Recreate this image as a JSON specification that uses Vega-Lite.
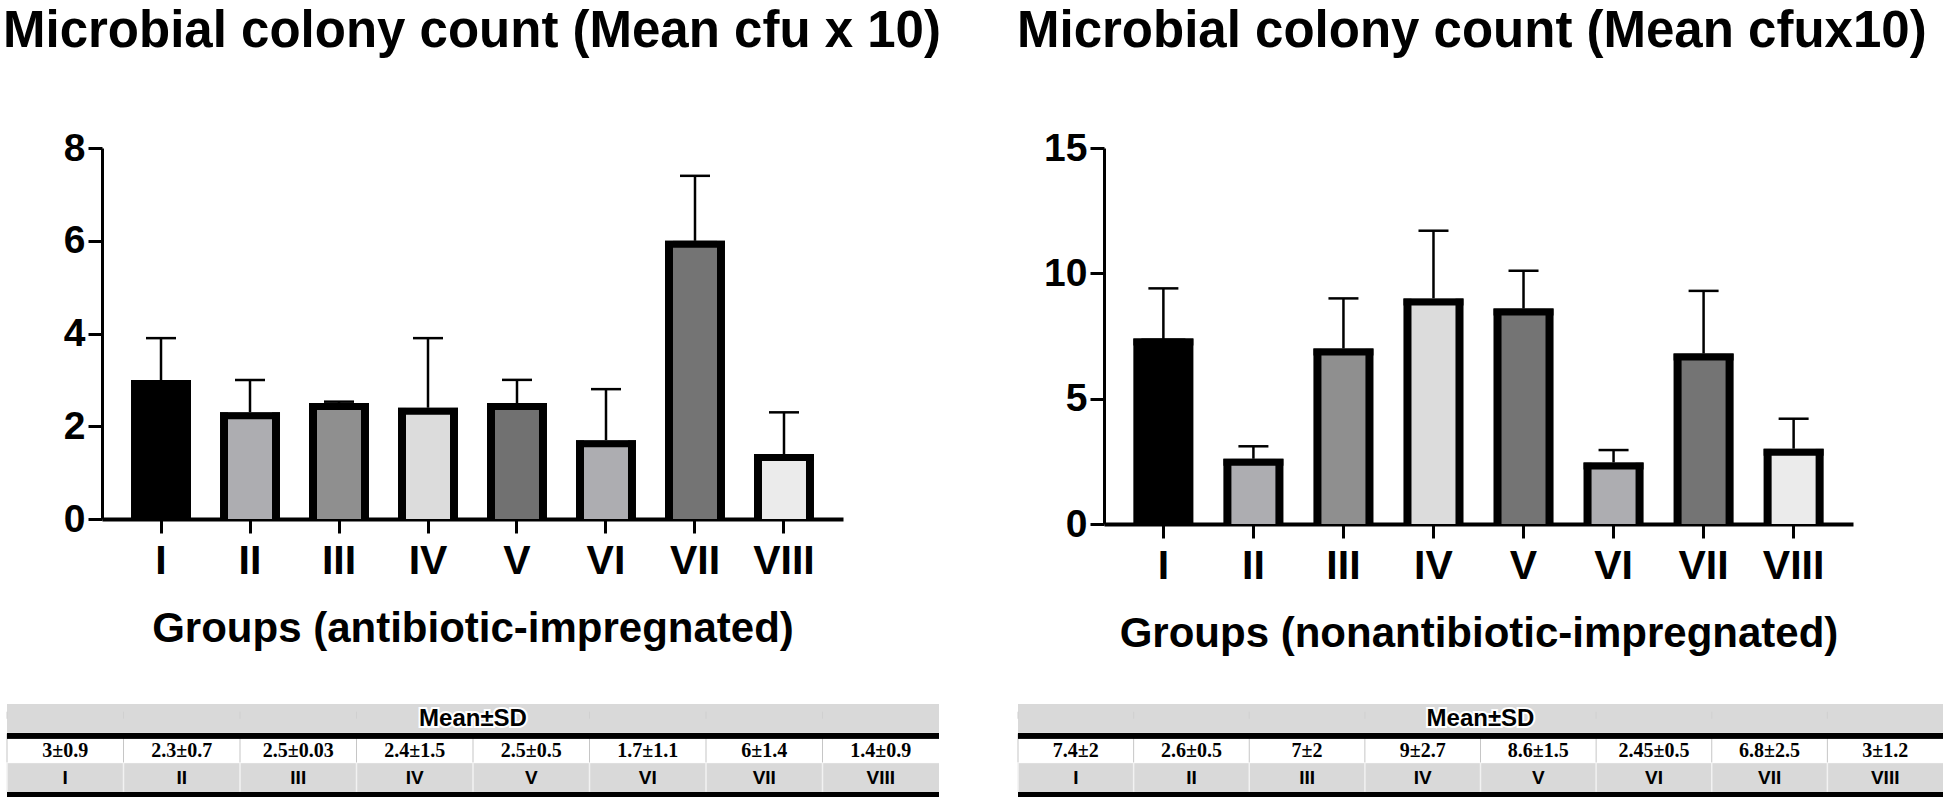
{
  "$schema": "https://vega.github.io/schema/vega-lite/v6.json",
  "background": "white",
  "padding": {"left": 3, "top": 6, "right": 0, "bottom": 0},
  "columns": 2,
  "bounds": "flush",
  "align": "all",
  "spacing": {"row": 180, "column": 79},
  "resolve": {"scale": {"x": "independent", "y": "independent", "color": "independent"}},
  "config": {"view": {"stroke": null}, "font": "Liberation Sans", "tick": {"opacity": 1}},
  "datasets": {
    "anti": [
      {"g": "I", "mean": 3, "sd": 0.9, "label": "3±0.9"},
      {"g": "II", "mean": 2.3, "sd": 0.7, "label": "2.3±0.7"},
      {"g": "III", "mean": 2.5, "sd": 0.03, "label": "2.5±0.03"},
      {"g": "IV", "mean": 2.4, "sd": 1.5, "label": "2.4±1.5"},
      {"g": "V", "mean": 2.5, "sd": 0.5, "label": "2.5±0.5"},
      {"g": "VI", "mean": 1.7, "sd": 1.1, "label": "1.7±1.1"},
      {"g": "VII", "mean": 6, "sd": 1.4, "label": "6±1.4"},
      {"g": "VIII", "mean": 1.4, "sd": 0.9, "label": "1.4±0.9"}
    ],
    "non": [
      {"g": "I", "mean": 7.4, "sd": 2, "label": "7.4±2"},
      {"g": "II", "mean": 2.6, "sd": 0.5, "label": "2.6±0.5"},
      {"g": "III", "mean": 7, "sd": 2, "label": "7±2"},
      {"g": "IV", "mean": 9, "sd": 2.7, "label": "9±2.7"},
      {"g": "V", "mean": 8.6, "sd": 1.5, "label": "8.6±1.5"},
      {"g": "VI", "mean": 2.45, "sd": 0.5, "label": "2.45±0.5"},
      {"g": "VII", "mean": 6.8, "sd": 2.5, "label": "6.8±2.5"},
      {"g": "VIII", "mean": 3, "sd": 1.2, "label": "3±1.2"}
    ],
    "hdr": [{"t": "Mean±SD"}]
  },
  "concat": [
    {
      "width": 836, "height": 371,
      "title": {"text": "Microbial colony count (Mean cfu x 10)", "anchor": "start", "frame": "group", "dx": -4, "offset": 71, "fontSize": 51, "font": "Liberation Sans", "fontWeight": "bold", "color": "black"},
      "data": {"name": "anti"},
      "encoding": {
        "x": {"field": "g", "type": "nominal", "sort": null,
          "scale": {"domain": ["I","II","III","IV","V","VI","VII","VIII"], "range": [95, 836], "paddingInner": 0.326, "paddingOuter": 0.326},
          "axis": {"title": "Groups (antibiotic-impregnated)", "labelAngle": 0, "domainWidth": 4, "domainColor": "black", "tickColor": "black", "tickWidth": 3, "tickSize": 14, "labelFont": "Liberation Sans", "labelFontSize": 41, "labelFontWeight": "bold", "labelColor": "black", "labelPadding": 8, "titleFont": "Liberation Sans", "titleFontSize": 42, "titleFontWeight": "bold", "titleColor": "black", "titlePadding": 27}},
        "y": {"field": "mean", "type": "quantitative",
          "scale": {"domain": [0, 8], "nice": false},
          "axis": {"title": null, "values": [0, 2, 4, 6, 8], "offset": -95, "grid": false, "domainWidth": 3, "domainColor": "black", "tickColor": "black", "tickWidth": 3, "tickSize": 14, "labelFont": "Liberation Sans", "labelFontSize": 39, "labelFontWeight": "bold", "labelColor": "black", "labelPadding": 3}}
      },
      "layer": [
        {"mark": {"type": "errorbar", "color": "black", "thickness": 2.5, "size": 30, "ticks": true}, "encoding": {"yError": {"field": "sd"}}},
        {"mark": {"type": "bar", "color": "black"}},
        {"mark": {"type": "bar", "width": 44},
          "encoding": {"color": {"field": "g", "type": "nominal", "scale": {"domain": ["I","II","III","IV","V","VI","VII","VIII"], "range": ["#000000","#adadb1","#8f8f8f","#dcdcdc","#717171","#adadb1","#747474","#ebebeb"]}, "legend": null}}},
        {"mark": {"type": "tick", "orient": "horizontal", "color": "black", "opacity": 1, "size": 60, "thickness": 7, "yOffset": 3.5}}
      ]
    },
    {
      "width": 835, "height": 376,
      "title": {"text": "Microbial colony count (Mean cfux10)", "anchor": "start", "frame": "group", "dx": -1, "offset": 71, "fontSize": 51, "font": "Liberation Sans", "fontWeight": "bold", "color": "black"},
      "data": {"name": "non"},
      "encoding": {
        "x": {"field": "g", "type": "nominal", "sort": null,
          "scale": {"domain": ["I","II","III","IV","V","VI","VII","VIII"], "range": [86, 835], "paddingInner": 0.333, "paddingOuter": 0.326},
          "axis": {"title": "Groups (nonantibiotic-impregnated)", "labelAngle": 0, "domainWidth": 4, "domainColor": "black", "tickColor": "black", "tickWidth": 3, "tickSize": 14, "labelFont": "Liberation Sans", "labelFontSize": 41, "labelFontWeight": "bold", "labelColor": "black", "labelPadding": 8, "titleFont": "Liberation Sans", "titleFontSize": 42, "titleFontWeight": "bold", "titleColor": "black", "titlePadding": 27}},
        "y": {"field": "mean", "type": "quantitative",
          "scale": {"domain": [0, 15], "nice": false},
          "axis": {"title": null, "values": [0, 5, 10, 15], "offset": -86, "grid": false, "domainWidth": 3, "domainColor": "black", "tickColor": "black", "tickWidth": 3, "tickSize": 14, "labelFont": "Liberation Sans", "labelFontSize": 39, "labelFontWeight": "bold", "labelColor": "black", "labelPadding": 3}}
      },
      "layer": [
        {"mark": {"type": "errorbar", "color": "black", "thickness": 2.5, "size": 30, "ticks": true}, "encoding": {"yError": {"field": "sd"}}},
        {"mark": {"type": "bar", "color": "black"}},
        {"mark": {"type": "bar", "width": 44},
          "encoding": {"color": {"field": "g", "type": "nominal", "scale": {"domain": ["I","II","III","IV","V","VI","VII","VIII"], "range": ["#000000","#adadb1","#8f8f8f","#dcdcdc","#747474","#adadb1","#747474","#ebebeb"]}, "legend": null}}},
        {"mark": {"type": "tick", "orient": "horizontal", "color": "black", "opacity": 1, "size": 60, "thickness": 7, "yOffset": 3.5}}
      ]
    },
    {
      "width": 932, "height": 88,
      "view": {"fill": "#d9d9d9", "stroke": null},
      "data": {"name": "anti"},
      "layer": [
        {"mark": {"type": "rect", "color": "white", "stroke": "white", "strokeWidth": 1},
          "encoding": {
            "x": {"field": "g", "type": "nominal", "sort": null, "scale": {"domain": ["I","II","III","IV","V","VI","VII","VIII"], "paddingInner": 0, "paddingOuter": 0}, "axis": null},
            "y": {"datum": "v", "type": "nominal", "scale": {"domain": ["h","v","l"], "paddingInner": 0, "paddingOuter": 0}, "axis": null}}},
        {"mark": {"type": "tick", "orient": "vertical", "size": 29, "thickness": 1, "color": "#c6c6c6"},
          "encoding": {"x": {"field": "g", "type": "nominal", "sort": null, "bandPosition": 0}, "y": {"datum": "v", "type": "nominal"}}},
        {"mark": {"type": "tick", "orient": "vertical", "size": 29, "thickness": 1.5, "color": "#f2f2f2"},
          "encoding": {"x": {"field": "g", "type": "nominal", "sort": null, "bandPosition": 0}, "y": {"datum": "l", "type": "nominal"}}},
        {"mark": {"type": "tick", "orient": "vertical", "size": 7, "thickness": 1, "color": "#d0d0d0", "yOffset": -3.5},
          "encoding": {"x": {"field": "g", "type": "nominal", "sort": null, "bandPosition": 0}, "y": {"datum": "h", "type": "nominal", "bandPosition": 0}}},
        {"mark": {"type": "rule", "color": "black", "strokeWidth": 5, "yOffset": 2.5},
          "encoding": {"y": {"datum": "v", "type": "nominal", "bandPosition": 0}}},
        {"mark": {"type": "rule", "color": "black", "strokeWidth": 5, "yOffset": 2.5},
          "encoding": {"y": {"datum": "l", "type": "nominal", "bandPosition": 1}}},
        {"data": {"name": "hdr"}, "mark": {"type": "text", "font": "Liberation Sans", "fontWeight": "bold", "fontSize": 24, "color": "white", "stroke": "white", "strokeWidth": 4},
          "encoding": {"x": {"datum": "IV", "type": "nominal", "bandPosition": 1}, "y": {"datum": "h", "type": "nominal"}, "text": {"field": "t"}}},
        {"data": {"name": "hdr"}, "mark": {"type": "text", "font": "Liberation Sans", "fontWeight": "bold", "fontSize": 24, "color": "black"},
          "encoding": {"x": {"datum": "IV", "type": "nominal", "bandPosition": 1}, "y": {"datum": "h", "type": "nominal"}, "text": {"field": "t"}}},
        {"mark": {"type": "text", "font": "Liberation Serif", "fontWeight": "bold", "fontSize": 20, "color": "black", "yOffset": 3},
          "encoding": {"x": {"field": "g", "type": "nominal", "sort": null}, "y": {"datum": "v", "type": "nominal"}, "text": {"field": "label"}}},
        {"mark": {"type": "text", "font": "Liberation Sans", "fontWeight": "bold", "fontSize": 19, "color": "black", "yOffset": 1},
          "encoding": {"x": {"field": "g", "type": "nominal", "sort": null}, "y": {"datum": "l", "type": "nominal"}, "text": {"field": "g"}}}
      ]
    },
    {
      "width": 925, "height": 88,
      "view": {"fill": "#d9d9d9", "stroke": null},
      "data": {"name": "non"},
      "layer": [
        {"mark": {"type": "rect", "color": "white", "stroke": "white", "strokeWidth": 1},
          "encoding": {
            "x": {"field": "g", "type": "nominal", "sort": null, "scale": {"domain": ["I","II","III","IV","V","VI","VII","VIII"], "paddingInner": 0, "paddingOuter": 0}, "axis": null},
            "y": {"datum": "v", "type": "nominal", "scale": {"domain": ["h","v","l"], "paddingInner": 0, "paddingOuter": 0}, "axis": null}}},
        {"mark": {"type": "tick", "orient": "vertical", "size": 29, "thickness": 1, "color": "#c6c6c6"},
          "encoding": {"x": {"field": "g", "type": "nominal", "sort": null, "bandPosition": 0}, "y": {"datum": "v", "type": "nominal"}}},
        {"mark": {"type": "tick", "orient": "vertical", "size": 29, "thickness": 1.5, "color": "#f2f2f2"},
          "encoding": {"x": {"field": "g", "type": "nominal", "sort": null, "bandPosition": 0}, "y": {"datum": "l", "type": "nominal"}}},
        {"mark": {"type": "tick", "orient": "vertical", "size": 7, "thickness": 1, "color": "#d0d0d0", "yOffset": -3.5},
          "encoding": {"x": {"field": "g", "type": "nominal", "sort": null, "bandPosition": 0}, "y": {"datum": "h", "type": "nominal", "bandPosition": 0}}},
        {"mark": {"type": "rule", "color": "black", "strokeWidth": 5, "yOffset": 2.5},
          "encoding": {"y": {"datum": "v", "type": "nominal", "bandPosition": 0}}},
        {"mark": {"type": "rule", "color": "black", "strokeWidth": 5, "yOffset": 2.5},
          "encoding": {"y": {"datum": "l", "type": "nominal", "bandPosition": 1}}},
        {"data": {"name": "hdr"}, "mark": {"type": "text", "font": "Liberation Sans", "fontWeight": "bold", "fontSize": 24, "color": "white", "stroke": "white", "strokeWidth": 4},
          "encoding": {"x": {"datum": "IV", "type": "nominal", "bandPosition": 1}, "y": {"datum": "h", "type": "nominal"}, "text": {"field": "t"}}},
        {"data": {"name": "hdr"}, "mark": {"type": "text", "font": "Liberation Sans", "fontWeight": "bold", "fontSize": 24, "color": "black"},
          "encoding": {"x": {"datum": "IV", "type": "nominal", "bandPosition": 1}, "y": {"datum": "h", "type": "nominal"}, "text": {"field": "t"}}},
        {"mark": {"type": "text", "font": "Liberation Serif", "fontWeight": "bold", "fontSize": 20, "color": "black", "yOffset": 3},
          "encoding": {"x": {"field": "g", "type": "nominal", "sort": null}, "y": {"datum": "v", "type": "nominal"}, "text": {"field": "label"}}},
        {"mark": {"type": "text", "font": "Liberation Sans", "fontWeight": "bold", "fontSize": 19, "color": "black", "yOffset": 1},
          "encoding": {"x": {"field": "g", "type": "nominal", "sort": null}, "y": {"datum": "l", "type": "nominal"}, "text": {"field": "g"}}}
      ]
    }
  ]
}
